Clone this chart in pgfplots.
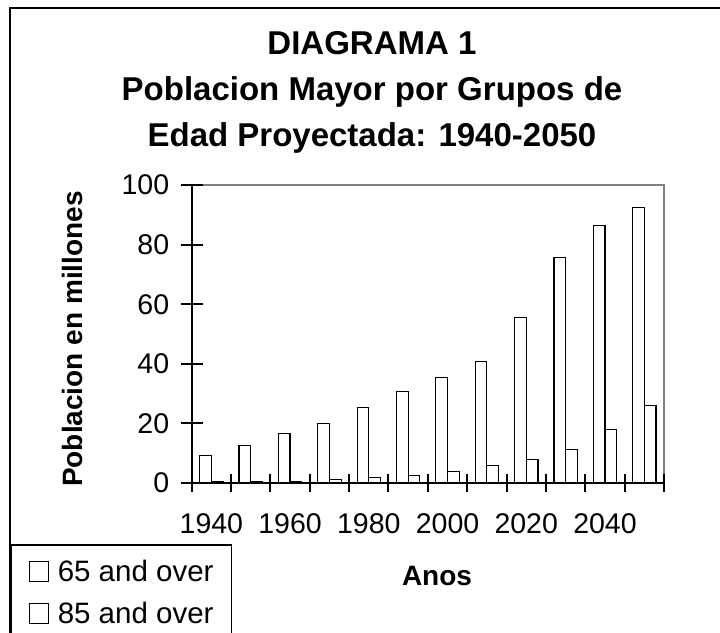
\documentclass[border=0pt]{standalone}
\usepackage{pgfplots}
\pgfplotsset{compat=1.18}
\usepackage{fontspec}
\setmainfont{Liberation Sans}

\begin{document}
\begin{tikzpicture}[x=1pt,y=1pt]
\useasboundingbox (0,0) rectangle (720,632);
\clip (0,0) rectangle (720,632);
\fill[white] (0,0) rectangle (720,632);
\draw[line width=2pt] (10,-20) -- (10,624) -- (740,624);
\begin{axis}[
  at={(191.7pt,149pt)}, anchor=south west,
  scale only axis, width=472.3pt, height=298pt,
  xmin=-0.5, xmax=11.5, ymin=0, ymax=100,
  axis x line*=bottom, axis y line*=left,
  axis line style={line width=2.2pt, -},
  axis background/.style={draw=gray, line width=1.3pt},
  ybar=0pt, bar width=11.7pt,
  xtick={0,2,4,6,8,10}, xticklabels={1940,1960,1980,2000,2020,2040},
  minor xtick={-0.5,0.5,...,11.5},
  ytick={0,20,40,60,80,100},
  tick align=center,
  major tick length=22pt, minor tick length=18pt,
  major x tick style={draw=none},
  minor x tick style={line width=2pt, black},
  y tick style={line width=2pt, black},
  /pgf/number format/assume math mode=true,
  tick label style={font=\fontsize{28.5}{30}\selectfont},
  xticklabel style={yshift=-16pt},
  yticklabel style={xshift=-8pt},
  ylabel={Poblacion en millones},
  ylabel style={at={(axis description cs:-0.2534,0.4832)}, anchor=center, font=\bfseries\fontsize{28}{30}\selectfont},
  xlabel={Anos},
  xlabel style={at={(axis description cs:0.5194,-0.3121)}, anchor=center, font=\bfseries\fontsize{28}{30}\selectfont},
  title={DIAGRAMA 1\\Poblacion Mayor por Grupos de\\Edad Proyectada: 1940-2050},
  title style={at={(axis description cs:0.3817,1.4967)}, anchor=north, align=center, inner sep=0pt, font=\bfseries\fontsize{33}{46}\selectfont},
  legend style={at={(axis description cs:-0.3847,-0.2047)}, anchor=north west,
    draw=black, line width=1.5pt, inner xsep=18pt, inner ysep=15.5pt,
    nodes={inner sep=0pt, font=\fontsize{29.5}{30}\selectfont},
    row sep=19pt, /tikz/column 1/.style={column sep=9pt}},
  legend cell align=left,
]
\addplot[fill=white, draw=black, line width=1.2pt,
  legend image code/.code={\draw[black,line width=1pt,fill=white] (0pt,-10pt) rectangle (19pt,10pt);}]
  coordinates {(0,9.2) (1,12.5) (2,16.6) (3,19.9) (4,25.3) (5,30.7) (6,35.4) (7,40.8) (8,55.5) (9,75.7) (10,86.4) (11,92.5)};
\addplot[fill=white, draw=black, line width=1.2pt,
  legend image code/.code={\draw[black,line width=1pt,fill=white] (0pt,-10pt) rectangle (19pt,10pt);}]
  coordinates {(0,0.4) (1,0.4) (2,0.5) (3,1.1) (4,1.8) (5,2.5) (6,3.8) (7,5.8) (8,7.8) (9,11.2) (10,17.9) (11,26.0)};
\legend{65 and over, 85 and over}
\end{axis}
\end{tikzpicture}
\end{document}
